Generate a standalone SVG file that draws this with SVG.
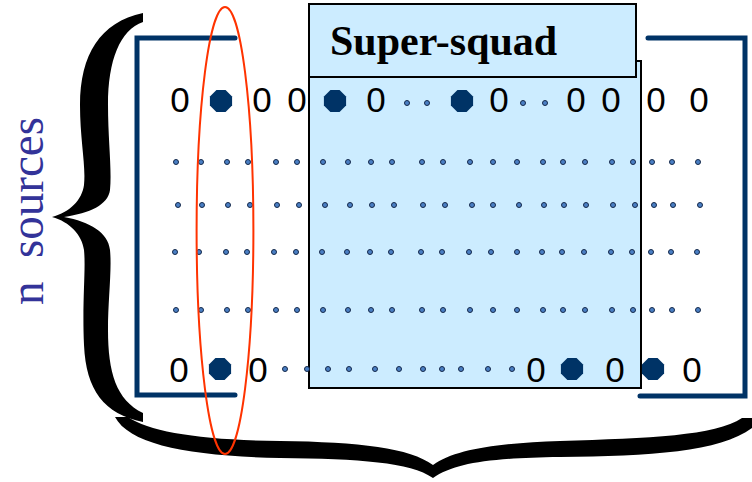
<svg xmlns="http://www.w3.org/2000/svg" xmlns:xlink="http://www.w3.org/1999/xlink" width="752" height="482" viewBox="0 0 752 482">
  <style>
    .bracket { fill: none; stroke: #003366; stroke-width: 5; stroke-linecap: round; stroke-linejoin: miter; }
    .box { fill: #CCECFF; stroke: #000; stroke-width: 2; }
    .zero { font-family: "Liberation Sans", Arial, sans-serif; font-size: 35px; fill: #000; text-anchor: middle; }
    .dot { fill: #4a7fc4; stroke: #14284a; stroke-width: 1; }
    .oct { fill: #003366; }
    .brace { fill: #000; }
    .title { font-family: "Liberation Serif", "Times New Roman", serif; font-weight: bold; font-size: 42px; fill: #000; }
    .side { font-family: "Liberation Serif", "Times New Roman", serif; font-size: 48px; fill: #333399; white-space: pre; }
  </style>
  <defs>
    <polygon id="oct" points="11.09,4.59 4.59,11.09 -4.59,11.09 -11.09,4.59 -11.09,-4.59 -4.59,-11.09 4.59,-11.09 11.09,-4.59"/>
    <circle id="dot" r="2.5"/>
  </defs>

  <!-- braces -->
  <g id="brace-left">
    <path class="brace" d="M143,13 L143,22 C120,30 108,60 108,105 C108,140 112,170 110,190 C108,205 90,213 64,217 C90,222 108,232 110,250 C112,270 108,300 108,330 C108,372 116,400 143,413 L143,422 C104,414 86,390 84,345 C82,300 86,270 84,250 C82,235 70,222 52,217 C70,212 82,200 84,185 C86,165 80,140 80,105 C80,55 100,22 143,13 Z"/>
  </g>
  <g id="brace-bottom">
    <path class="brace" d="M115,417 L128,417 C150,432 200,440 280,441 C360,442 410,448 433,465 C455,449 500,443 560,441 C650,438 715,436 742,418 L752,418 L752,428 C720,452 650,456 560,457 C490,458 455,463 433,478 C410,462 360,459 280,458 C190,456 130,445 115,417 Z"/>
  </g>

  <!-- side label -->
  <g id="label-sources">
    <text class="side" xml:space="preserve" transform="translate(43,305) rotate(-90)" textLength="188" lengthAdjust="spacingAndGlyphs">n  sources</text>
  </g>

  <!-- matrix frame -->
  <g id="frame">
    <path class="bracket" d="M235,38 H137 V395 H235"/>
    <path class="bracket" d="M648,38 H745 V396 H640"/>
  </g>

  <!-- super-squad panel -->
  <g id="super-squad">
    <rect class="box" x="309" y="61" width="332" height="327"/>
    <rect class="box" x="309" y="4" width="327" height="73"/>
    <text class="title" x="330" y="55">Super-squad</text>
  </g>

  <!-- first source row -->
  <g id="row-top">
    <text class="zero" x="180" y="112">0</text>
    <text class="zero" x="262" y="112">0</text>
    <text class="zero" x="297" y="112">0</text>
    <text class="zero" x="376" y="112">0</text>
    <text class="zero" x="499" y="112">0</text>
    <text class="zero" x="576" y="112">0</text>
    <text class="zero" x="611" y="112">0</text>
    <text class="zero" x="656" y="112">0</text>
    <text class="zero" x="699" y="112">0</text>
    <use href="#oct" class="oct" x="221" y="101"/>
    <use href="#oct" class="oct" x="335" y="101"/>
    <use href="#oct" class="oct" x="462" y="101"/>
    <use href="#dot" class="dot" x="407" y="103"/>
    <use href="#dot" class="dot" x="427" y="103"/>
    <use href="#dot" class="dot" x="523" y="103"/>
    <use href="#dot" class="dot" x="545" y="103"/>
  </g>

  <!-- elided rows -->
  <g id="rows-middle">
    <g id="row-a" transform="translate(0,162)">
      <use href="#dot" class="dot" x="176"/><use href="#dot" class="dot" x="201"/><use href="#dot" class="dot" x="227"/><use href="#dot" class="dot" x="248"/><use href="#dot" class="dot" x="276"/><use href="#dot" class="dot" x="297"/><use href="#dot" class="dot" x="323"/><use href="#dot" class="dot" x="348"/><use href="#dot" class="dot" x="371"/><use href="#dot" class="dot" x="392"/><use href="#dot" class="dot" x="422"/><use href="#dot" class="dot" x="443"/><use href="#dot" class="dot" x="470"/><use href="#dot" class="dot" x="493"/><use href="#dot" class="dot" x="517"/><use href="#dot" class="dot" x="543"/><use href="#dot" class="dot" x="563"/><use href="#dot" class="dot" x="585"/><use href="#dot" class="dot" x="612"/><use href="#dot" class="dot" x="633"/><use href="#dot" class="dot" x="652"/><use href="#dot" class="dot" x="672"/><use href="#dot" class="dot" x="698"/>
    </g>
    <g id="row-b" transform="translate(0,205)">
      <use href="#dot" class="dot" x="178"/><use href="#dot" class="dot" x="202"/><use href="#dot" class="dot" x="228"/><use href="#dot" class="dot" x="250"/><use href="#dot" class="dot" x="277"/><use href="#dot" class="dot" x="299"/><use href="#dot" class="dot" x="325"/><use href="#dot" class="dot" x="350"/><use href="#dot" class="dot" x="372"/><use href="#dot" class="dot" x="394"/><use href="#dot" class="dot" x="423"/><use href="#dot" class="dot" x="445"/><use href="#dot" class="dot" x="472"/><use href="#dot" class="dot" x="493"/><use href="#dot" class="dot" x="519"/><use href="#dot" class="dot" x="544"/><use href="#dot" class="dot" x="564"/><use href="#dot" class="dot" x="586"/><use href="#dot" class="dot" x="613"/><use href="#dot" class="dot" x="635"/><use href="#dot" class="dot" x="654"/><use href="#dot" class="dot" x="673"/><use href="#dot" class="dot" x="700"/>
    </g>
    <g id="row-c" transform="translate(0,252)">
      <use href="#dot" class="dot" x="175"/><use href="#dot" class="dot" x="199"/><use href="#dot" class="dot" x="226"/><use href="#dot" class="dot" x="247"/><use href="#dot" class="dot" x="274"/><use href="#dot" class="dot" x="296"/><use href="#dot" class="dot" x="322"/><use href="#dot" class="dot" x="347"/><use href="#dot" class="dot" x="370"/><use href="#dot" class="dot" x="391"/><use href="#dot" class="dot" x="421"/><use href="#dot" class="dot" x="442"/><use href="#dot" class="dot" x="469"/><use href="#dot" class="dot" x="491"/><use href="#dot" class="dot" x="517"/><use href="#dot" class="dot" x="542"/><use href="#dot" class="dot" x="562"/><use href="#dot" class="dot" x="584"/><use href="#dot" class="dot" x="611"/><use href="#dot" class="dot" x="632"/><use href="#dot" class="dot" x="651"/><use href="#dot" class="dot" x="671"/><use href="#dot" class="dot" x="697"/>
    </g>
    <g id="row-d" transform="translate(0,310)">
      <use href="#dot" class="dot" x="176"/><use href="#dot" class="dot" x="201"/><use href="#dot" class="dot" x="227"/><use href="#dot" class="dot" x="248"/><use href="#dot" class="dot" x="276"/><use href="#dot" class="dot" x="297"/><use href="#dot" class="dot" x="323"/><use href="#dot" class="dot" x="348"/><use href="#dot" class="dot" x="371"/><use href="#dot" class="dot" x="392"/><use href="#dot" class="dot" x="422"/><use href="#dot" class="dot" x="443"/><use href="#dot" class="dot" x="470"/><use href="#dot" class="dot" x="493"/><use href="#dot" class="dot" x="517"/><use href="#dot" class="dot" x="543"/><use href="#dot" class="dot" x="563"/><use href="#dot" class="dot" x="585"/><use href="#dot" class="dot" x="612"/><use href="#dot" class="dot" x="633"/><use href="#dot" class="dot" x="652"/><use href="#dot" class="dot" x="672"/><use href="#dot" class="dot" x="698"/>
    </g>
  </g>

  <!-- last source row -->
  <g id="row-bottom">
    <text class="zero" x="179" y="382">0</text>
    <text class="zero" x="258" y="382">0</text>
    <text class="zero" x="536" y="382">0</text>
    <text class="zero" x="615" y="382">0</text>
    <text class="zero" x="692" y="382">0</text>
    <use href="#oct" class="oct" x="220" y="369"/>
    <use href="#oct" class="oct" x="572" y="369"/>
    <use href="#oct" class="oct" x="653" y="369"/>
    <g transform="translate(0,369)">
      <use href="#dot" class="dot" x="285"/><use href="#dot" class="dot" x="307"/><use href="#dot" class="dot" x="328"/><use href="#dot" class="dot" x="349"/><use href="#dot" class="dot" x="375"/><use href="#dot" class="dot" x="399"/><use href="#dot" class="dot" x="423"/><use href="#dot" class="dot" x="442"/><use href="#dot" class="dot" x="461"/><use href="#dot" class="dot" x="488"/><use href="#dot" class="dot" x="512"/>
    </g>
  </g>

  <!-- highlighted column -->
  <g id="column-highlight">
    <ellipse cx="225" cy="230.5" rx="28.4" ry="223.5" fill="none" stroke="#FF3300" stroke-width="2"/>
  </g>
</svg>
